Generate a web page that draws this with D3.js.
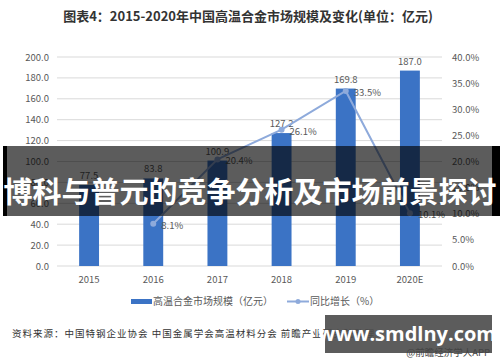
<!DOCTYPE html>
<html>
<head>
<meta charset="utf-8">
<script src="https://cdn.jsdelivr.net/npm/d3@7"></script>
<style>
  body { margin: 0; background: #fff; }
  svg { display: block; font-family: "Noto Sans CJK SC", "Noto Sans", sans-serif; }
</style>
</head>
<body>
<div id="chart"></div>
<script>
/* DATA */
const years = ["2015", "2016", "2017", "2018", "2019", "2020E"];
const marketSize = [77.5, 83.8, 100.9, 127.2, 169.8, 187.0];
const growth = [null, 8.1, 20.4, 26.1, 33.5, 10.1];
const leftTicks = [0, 20, 40, 60, 80, 100, 120, 140, 160, 180, 200];
const rightTicks = [0, 5, 10, 15, 20, 25, 30, 35, 40];

const W = 500, H = 362;
const margin = { top: 57, right: 58, bottom: 96, left: 57 };
const width = W - margin.left - margin.right;
const height = H - margin.top - margin.bottom;

const barColor = "#3b73c5";
const lineColor = "#8eaadb";
const textColor = "#595959";

const svg = d3.select("#chart").append("svg")
  .attr("width", W).attr("height", H);

// title
svg.append("text")
  .attr("x", 248).attr("y", 21)
  .attr("text-anchor", "middle")
  .attr("font-size", 13).attr("font-weight", "bold")
  .attr("fill", "#333")
  .text("图表4：2015-2020年中国高温合金市场规模及变化(单位：亿元)");

const g = svg.append("g")
  .attr("transform", `translate(${margin.left},${margin.top})`);

// scales
const x = d3.scaleBand().domain(years).range([0, width]).paddingInner(0.69).paddingOuter(0.345);
const y = d3.scaleLinear().domain([0, 200]).range([height, 0]);
const y2 = d3.scaleLinear().domain([0, 40]).range([height, 0]);

// grid
g.selectAll(".grid").data(leftTicks).join("line")
  .attr("x1", 0).attr("x2", width)
  .attr("y1", d => y(d)).attr("y2", d => y(d))
  .attr("stroke", "#d9d9d9").attr("stroke-width", 1);

// axes
const yAxis = g.append("g")
  .call(d3.axisLeft(y).tickValues(leftTicks).tickFormat(d3.format(".1f")).tickSize(0).tickPadding(8));
const yAxis2 = g.append("g")
  .attr("transform", `translate(${width},0)`)
  .call(d3.axisRight(y2).tickValues(rightTicks).tickFormat(d => d.toFixed(1) + "%").tickSize(0).tickPadding(10));
const xAxis = g.append("g")
  .attr("transform", `translate(0,${height})`)
  .call(d3.axisBottom(x).tickSize(0).tickPadding(10));
[yAxis, yAxis2, xAxis].forEach(a => {
  a.select(".domain").remove();
  a.selectAll("text").attr("fill", textColor).attr("font-size", 9.5).attr("font-family", "Noto Sans CJK SC");
});

// bars
g.selectAll(".bar").data(years).join("rect")
  .attr("x", d => x(d))
  .attr("y", (d, i) => y(marketSize[i]))
  .attr("width", x.bandwidth())
  .attr("height", (d, i) => height - y(marketSize[i]))
  .attr("fill", barColor);

g.selectAll(".barlabel").data(years).join("text")
  .attr("x", d => x(d) + x.bandwidth() / 2)
  .attr("y", (d, i) => y(marketSize[i]) - 6)
  .attr("text-anchor", "middle")
  .attr("font-size", 9.5).attr("fill", textColor)
  .text((d, i) => marketSize[i].toFixed(1));

// growth line
const pts = years.map((d, i) => ({ year: d, v: growth[i] })).filter(d => d.v !== null);
const line = d3.line()
  .x(d => x(d.year) + x.bandwidth() / 2)
  .y(d => y2(d.v));
g.append("path").datum(pts)
  .attr("d", line)
  .attr("fill", "none").attr("stroke", lineColor).attr("stroke-width", 2);
g.selectAll(".dot").data(pts).join("circle")
  .attr("cx", d => x(d.year) + x.bandwidth() / 2)
  .attr("cy", d => y2(d.v))
  .attr("r", 3).attr("fill", lineColor);
g.selectAll(".dotlabel").data(pts).join("text")
  .attr("x", d => x(d.year) + x.bandwidth() / 2 + 8)
  .attr("y", d => y2(d.v) + 5)
  .attr("font-size", 9.5).attr("fill", textColor)
  .text(d => d.v.toFixed(1) + "%");

// legend
const leg = svg.append("g").attr("font-size", 10).attr("fill", textColor);
leg.append("rect").attr("x", 131).attr("y", 299).attr("width", 21).attr("height", 5).attr("fill", barColor);
leg.append("text").attr("x", 153).attr("y", 305).attr("fill", textColor).text("高温合金市场规模（亿元）");
leg.append("line").attr("x1", 287).attr("x2", 309).attr("y1", 301.5).attr("y2", 301.5)
  .attr("stroke", lineColor).attr("stroke-width", 2);
leg.append("circle").attr("cx", 298).attr("cy", 301.5).attr("r", 2.5).attr("fill", lineColor);
leg.append("text").attr("x", 310).attr("y", 305).attr("fill", textColor).text("同比增长（%）");

// source
svg.append("text")
  .attr("x", 12).attr("y", 337)
  .attr("font-size", 9.5).attr("fill", "#333").attr("letter-spacing", 1)
  .text("资料来源：中国特钢企业协会 中国金属学会高温材料分会 前瞻产业研究院整理");

// overlay band
svg.append("rect").attr("x", 3).attr("y", 146).attr("width", 497).attr("height", 70)
  .attr("fill", "#000").attr("fill-opacity", 0.64);
svg.append("rect").attr("x", 3).attr("y", 146).attr("width", 4).attr("height", 70).attr("fill", "#000");
svg.append("rect").attr("x", 492).attr("y", 146).attr("width", 8).attr("height", 70).attr("fill", "#000");
svg.append("text")
  .attr("x", 250).attr("y", 203)
  .attr("text-anchor", "middle")
  .attr("font-size", 29).attr("font-weight", "bold").attr("fill", "#fff")
  .text("博科与普元的竞争分析及市场前景探讨");

// watermark box
svg.append("rect").attr("x", 325).attr("y", 315).attr("width", 167).attr("height", 38)
  .attr("fill", "#4a4a4a").attr("fill-opacity", 0.9);
svg.append("text")
  .attr("x", 407).attr("y", 341)
  .attr("text-anchor", "middle")
  .attr("font-size", 20).attr("font-weight", "bold").attr("fill", "#fff")
  .attr("font-family", "Open Sans, sans-serif")
  .text("www.smdlny.com");
svg.append("text")
  .attr("x", 490).attr("y", 356)
  .attr("text-anchor", "end")
  .attr("font-size", 9.5).attr("fill", "#444")
  .text("@前瞻经济学人APP");
</script>
</body>
</html>
